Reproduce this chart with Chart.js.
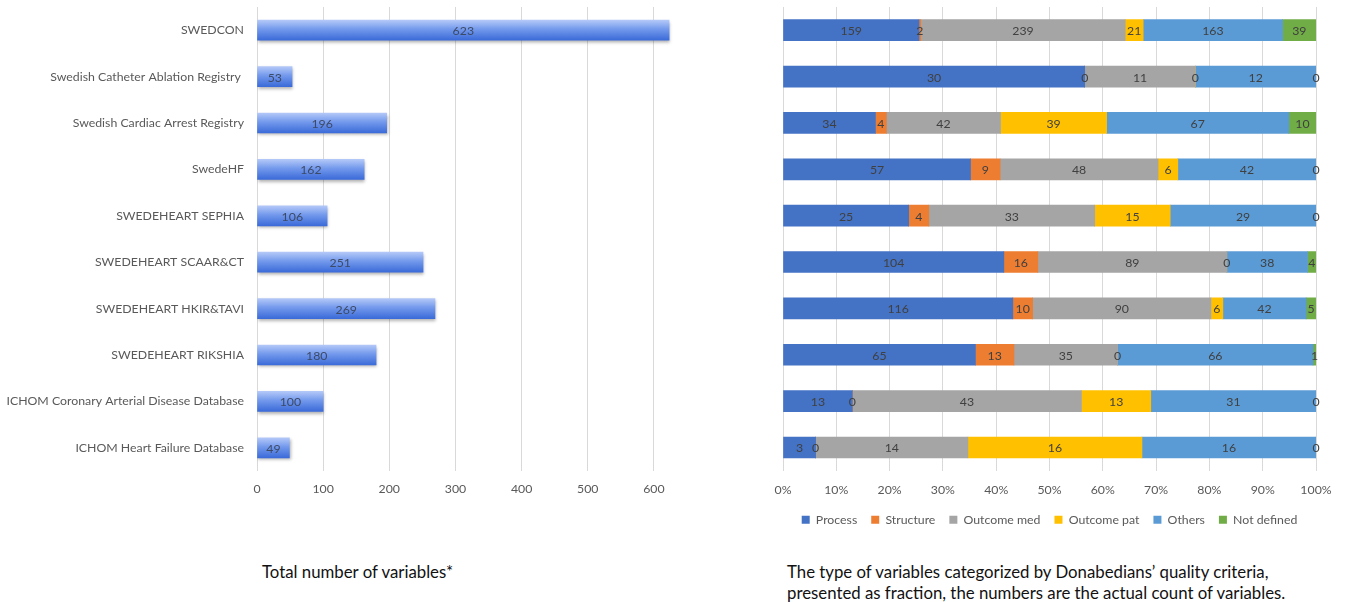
<!DOCTYPE html>
<html>
<head>
<meta charset="utf-8">
<script src="https://cdn.jsdelivr.net/npm/chart.js@4"></script>
<style>
	body { margin: 0; background: #fff; width: 1345px; height: 602px; position: relative; overflow: hidden; font-family: Lato, sans-serif; }
	#total-chart { position: absolute; left: 0; top: 0; }
	#type-chart { position: absolute; left: 760px; top: 0; }
	.caption { position: absolute; font-size: 16.8px; line-height: 21px; color: #111; }
</style>
</head>
<body>
<canvas id="total-chart" width="700" height="500"></canvas>
<canvas id="type-chart" width="585" height="536"></canvas>
<div class="caption" style="left:262px; top:561px;">Total number of variables*</div>
<div class="caption" style="left:787px; top:561px;">The type of variables categorized by Donabedians’ quality criteria,<br>presented as fraction, the numbers are the actual count of variables.</div>
<script>
const registries = ["SWEDCON", "Swedish Catheter Ablation Registry ", "Swedish Cardiac Arrest Registry", "SwedeHF",
	"SWEDEHEART SEPHIA", "SWEDEHEART SCAAR&CT", "SWEDEHEART HKIR&TAVI", "SWEDEHEART RIKSHIA",
	"ICHOM Coronary Arterial Disease Database", "ICHOM Heart Failure Database"];
const totals = [623, 53, 196, 162, 106, 251, 269, 180, 100, 49];

const typeNames = ["Process", "Structure", "Outcome med", "Outcome pat", "Others", "Not defined"];
const process = [159, 30, 34, 57, 25, 104, 116, 65, 13, 3];
const structure = [2, 0, 4, 9, 4, 16, 10, 13, 0, 0];
const outcomeMed = [239, 11, 42, 48, 33, 89, 90, 35, 43, 14];
const outcomePat = [21, 0, 39, 6, 15, 0, 6, 0, 13, 16];
const others = [163, 12, 67, 42, 29, 38, 42, 66, 31, 16];
const notDefined = [39, 0, 10, 0, 0, 4, 5, 1, 0, 0];
const typeColors = ["#4472C4", "#ED7D31", "#A5A5A5", "#FFC000", "#5B9BD5", "#70AD47"];

const gray = "#595959";
const gridColor = "#d9d9d9";
Chart.defaults.font.family = "Lato, sans-serif";
Chart.defaults.font.size = 12.3;
Chart.defaults.color = gray;

// count labels in the middle of each bar
const barLabels = {
	id: "barLabels",
	afterDatasetsDraw(chart, args, opts) {
		const ctx = chart.ctx;
		ctx.save();
		ctx.font = "12.3px Lato, sans-serif";
		ctx.fillStyle = opts.color || "#404040";
		ctx.textAlign = "center";
		ctx.textBaseline = "middle";
		chart.data.datasets.forEach((ds, i) => {
			const meta = chart.getDatasetMeta(i);
			meta.data.forEach((bar, j) => {
				const p = bar.getProps(["x", "base", "y"], true);
				ctx.fillText(ds.counts[j], (p.x + p.base) / 2, p.y + 1);
			});
		});
		ctx.restore();
	}
};

const barShadow = {
	id: "barShadow",
	beforeDatasetDraw(chart) {
		const ctx = chart.ctx;
		ctx.save();
		ctx.shadowColor = "rgba(0,0,0,0.3)";
		ctx.shadowBlur = 3;
		ctx.shadowOffsetX = 1;
		ctx.shadowOffsetY = 2;
	},
	afterDatasetDraw(chart) {
		chart.ctx.restore();
	}
};

new Chart(document.querySelector("#total-chart"), {
	type: "bar",
	data: {
		labels: registries,
		datasets: [{
			label: "Total",
			data: totals,
			counts: totals,
			barThickness: 20,
			backgroundColor: function (c) {
				const yScale = c.chart.scales.y;
				if (!yScale || c.dataIndex === undefined) return "#6d94ec";
				const cy = yScale.getPixelForValue(c.dataIndex);
				if (!isFinite(cy)) return "#6d94ec";
				const g = c.chart.ctx.createLinearGradient(0, cy - 10, 0, cy + 10);
				g.addColorStop(0, "#b3c8f8");
				g.addColorStop(0.45, "#7399ec");
				g.addColorStop(1, "#3b6bd9");
				return g;
			}
		}]
	},
	options: {
		responsive: false,
		animation: false,
		indexAxis: "y",
		layout: { padding: { top: 7, right: 13 } },
		plugins: {
			legend: { display: false },
			tooltip: { enabled: false },
			barLabels: { color: "#3d4a66" }
		},
		scales: {
			x: {
				min: 0,
				max: 650,
				afterBuildTicks: s => { s.ticks = s.ticks.filter(t => t.value % 100 === 0); },
				afterFit: s => { s.height = 29; },
				ticks: { stepSize: 100, padding: 11 },
				grid: { color: gridColor, drawTicks: false },
				border: { display: false }
			},
			y: {
				afterFit: s => { s.width = 257; s.paddingTop = 0; s.paddingBottom = 0; },
				ticks: { padding: 13 },
				grid: { display: false, drawTicks: false },
				border: { display: false }
			}
		}
	},
	plugins: [barShadow, barLabels]
});

const typeSeries = [process, structure, outcomeMed, outcomePat, others, notDefined];
const rowTotals = registries.map((r, i) => typeSeries.reduce((s, arr) => s + arr[i], 0));

new Chart(document.querySelector("#type-chart"), {
	type: "bar",
	data: {
		labels: registries,
		datasets: typeSeries.map((arr, k) => ({
			label: typeNames[k],
			data: arr.map((v, i) => v / rowTotals[i] * 100),
			counts: arr,
			backgroundColor: typeColors[k],
			barThickness: 21
		}))
	},
	options: {
		responsive: false,
		animation: false,
		indexAxis: "y",
		layout: { padding: { top: 7, left: 23, right: 29 } },
		plugins: {
			legend: {
				position: "bottom",
				labels: { boxWidth: 8, boxHeight: 8, padding: 14, color: gray, font: { size: 12.3 } }
			},
			tooltip: { enabled: false },
			barLabels: { color: "#404040" }
		},
		scales: {
			x: {
				stacked: true,
				min: 0,
				max: 100,
				afterFit: s => { s.height = 29; },
				ticks: { stepSize: 10, padding: 12, callback: v => v + "%" },
				grid: { color: gridColor, drawTicks: false },
				border: { display: false }
			},
			y: {
				stacked: true,
				display: false
			}
		}
	},
	plugins: [barLabels]
});
</script>
</body>
</html>
